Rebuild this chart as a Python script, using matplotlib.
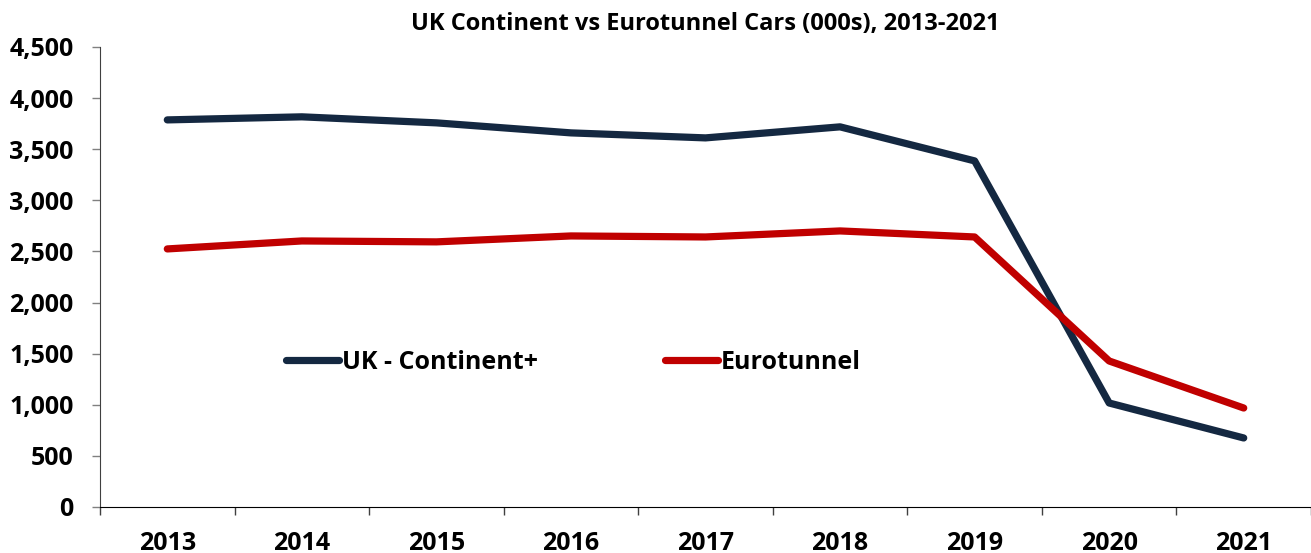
import matplotlib.pyplot as plt
from matplotlib.ticker import FuncFormatter, FixedLocator

years = ['2013', '2014', '2015', '2016', '2017', '2018', '2019', '2020', '2021']
uk_continent = [3786, 3816, 3757, 3659, 3610, 3718, 3385, 1017, 675]
eurotunnel = [2524, 2602, 2593, 2651, 2641, 2700, 2641, 1428, 968]

plt.rcParams['font.family'] = ['Open Sans', 'DejaVu Sans']
plt.rcParams['font.weight'] = 'bold'

fig = plt.figure(figsize=(13.11, 5.53), dpi=100)
ax = fig.add_axes([0.0763, 0.0832, 0.9237, 0.832])

x = list(range(len(years)))
ax.plot(x, uk_continent, color='#142841', lw=5.2, solid_capstyle='round',
        solid_joinstyle='round', label='UK - Continent+')
ax.plot(x, eurotunnel, color='#C00000', lw=5.2, solid_capstyle='round',
        solid_joinstyle='round', label='Eurotunnel')

ax.set_xlim(-0.5, len(years) - 0.5)
ax.set_ylim(0, 4500)
ax.set_yticks(range(0, 4501, 500))
ax.yaxis.set_major_formatter(FuncFormatter(lambda v, p: f'{int(v):,}'))

# category labels centred, tick marks between categories
ax.set_xticks(x)
ax.set_xticklabels(years)
ax.tick_params(axis='x', length=0, pad=17, labelsize=18)
ax.xaxis.set_minor_locator(FixedLocator([i + 0.5 for i in range(-1, len(years))]))
ax.tick_params(axis='x', which='minor', length=6, width=1, color='#404040', direction='out')
ax.tick_params(axis='y', length=6, width=1, color='#808080', pad=13, labelsize=18)

for s in ['top', 'right']:
    ax.spines[s].set_visible(False)
ax.spines['left'].set_color('#404040')
ax.spines['bottom'].set_color('#000000')

ax.set_title('UK Continent vs Eurotunnel Cars (000s), 2013-2021', fontsize=17,
             fontweight='bold', pad=12)

ax.legend(loc='center', bbox_to_anchor=(0.391, 0.315), ncol=2, frameon=False,
          fontsize=18, handlelength=2.1, handletextpad=0.12, columnspacing=5.1)

fig.savefig('out.png', dpi=100)
